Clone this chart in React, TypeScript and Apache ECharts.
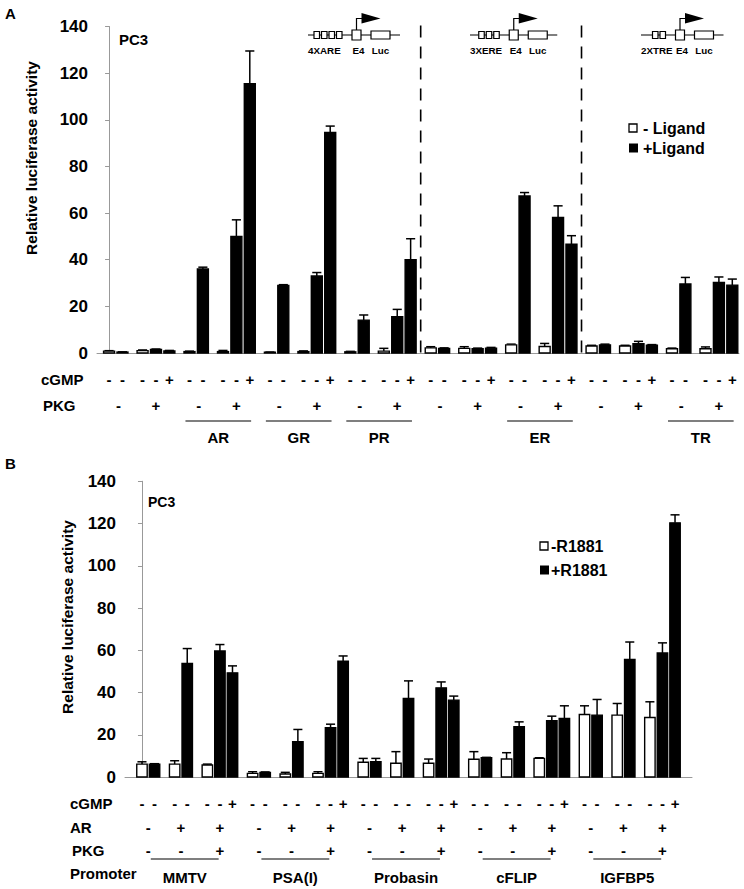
import React, { useEffect, useRef } from "react";
import * as echarts from "echarts";

const FONT = '"Liberation Sans", Arial, Helvetica, sans-serif';

// ---------------- Panel A data ----------------
// 8 groups of 5 bars: [-Ligand PKG-, +Ligand PKG-, -Ligand PKG+, +Ligand PKG+, +Ligand PKG+ cGMP+]
const receptorsA = ["", "AR", "GR", "PR", "", "ER", "", "TR"];
const valuesA = [
  [0.8, 0.4, 1.0, 1.5, 0.9],
  [0.6, 36, 0.6, 50, 115.5],
  [0.3, 29, 0.6, 33, 94.6],
  [0.5, 14.1, 0.8, 15.6, 40],
  [2.2, 2.0, 2.0, 1.8, 2.1],
  [3.5, 67.3, 2.8, 58.1, 46.6],
  [3.0, 3.5, 3.0, 4.0, 3.3],
  [1.8, 29.6, 1.8, 30.3, 29.1],
];
const errorsA = [
  [0.2, 0.1, 0.3, 0.2, 0.2],
  [0.2, 0.8, 0.5, 7.1, 14],
  [0.1, 0.3, 0.3, 1.5, 2.7],
  [0.2, 2.2, 1.2, 3.1, 9],
  [0.5, 0.2, 0.7, 0.3, 0.3],
  [0.3, 1.5, 1.3, 5.0, 3.7],
  [0.3, 0.3, 0.3, 1.0, 0.3],
  [0.3, 2.8, 0.8, 2.3, 2.6],
];
const ligandA = [0, 1, 0, 1, 1]; // 0 = - Ligand (white), 1 = +Ligand (black)
const cgmpA = ["-", "-", "-", "-", "+"];
const pkgA = ["-", "+"];
const dividersA = [3, 5]; // dashed line after these group indices
const promotersA = [
  { label: "4XARE", sites: 4 },
  { label: "3XERE", sites: 3 },
  { label: "2XTRE", sites: 2 },
];
const legendA = ["- Ligand", "+Ligand"];

// ---------------- Panel B data ----------------
const promotersB = ["MMTV", "PSA(I)", "Probasin", "cFLIP", "IGFBP5"];
const valuesB = [
  [6.1, 6.1, 6.1, 53.7, 5.7, 59.7, 49.3],
  [1.7, 2.2, 1.4, 16.7, 1.7, 23.3, 54.8],
  [7.0, 7.2, 6.5, 37.2, 6.5, 42.2, 36.4],
  [8.4, 9.1, 8.5, 23.8, 8.8, 26.6, 27.7],
  [29.6, 29.3, 29.3, 55.6, 28.2, 58.7, 120.3],
];
const errorsB = [
  [1.1, 0.2, 1.6, 7.1, 0.4, 3.0, 3.3],
  [0.8, 0.2, 0.8, 5.8, 0.8, 1.7, 2.5],
  [1.8, 1.6, 5.5, 8.3, 2.0, 2.8, 1.9],
  [3.6, 0.2, 3.0, 2.3, 0.3, 2.2, 6.0],
  [4.1, 7.4, 5.5, 8.3, 7.4, 4.8, 3.8],
];
const r1881B = [0, 1, 0, 1, 0, 1, 1]; // 0 = -R1881 (white), 1 = +R1881 (black)
const cgmpB = ["-", "-", "-", "-", "-", "-", "+"];
const arB = ["-", "+", "+"];
const pkgB = ["-", "-", "+"];
const legendB = ["-R1881", "+R1881"];

// ---------------- layout (positions in bar-slot units) ----------------
const slotA = [0, 1, 2.5, 3.5, 4.5];
const stepA = 6;
const slotB = [0, 1, 2.6, 3.6, 5.2, 6.2, 7.2];
const stepB = 8.8;
const condSlotB = [0.5, 3.1, 6.2];

type Ann = { x: number; x2?: number; dy: number; text?: string };

function buildBars(values: number[][], errors: number[][], fills: number[], slots: number[], step: number) {
  const out: number[][] = [];
  values.forEach((g, gi) =>
    g.forEach((v, i) => out.push([gi * step + slots[i], v, errors[gi][i], fills[i]]))
  );
  return out;
}

const barsA = buildBars(valuesA, errorsA, ligandA, slotA, stepA);
const barsB = buildBars(valuesB, errorsB, r1881B, slotB, stepB);

const annA: Ann[] = [];
receptorsA.forEach((r, g) => {
  slotA.forEach((s, i) => annA.push({ x: g * stepA + s, dy: 26, text: cgmpA[i] }));
  annA.push({ x: g * stepA + 0.7, dy: 52, text: pkgA[0] });
  annA.push({ x: g * stepA + 3.5, dy: 52, text: pkgA[1] });
  if (r) {
    annA.push({ x: g * stepA - 0.3, x2: g * stepA + 4.6, dy: 68 });
    annA.push({ x: g * stepA + 2.15, dy: 84, text: r });
  }
});

const annB: Ann[] = [];
promotersB.forEach((p, g) => {
  slotB.forEach((s, i) => annB.push({ x: g * stepB + s, dy: 26, text: cgmpB[i] }));
  condSlotB.forEach((s, i) => {
    annB.push({ x: g * stepB + s, dy: 50, text: arB[i] });
    annB.push({ x: g * stepB + s, dy: 73, text: pkgB[i] });
  });
  annB.push({ x: g * stepB + 0.7, x2: g * stepB + 6.1, dy: 82 });
  annB.push({ x: g * stepB + 3.4, dy: 100, text: p });
});

const dividerPos = dividersA.map((g) => g * stepA + slotA[4] + (stepA - slotA[4]) / 2);

function barRender(barW: number, capW: number) {
  return (params: any, api: any) => {
    const x = api.value(0);
    const v = api.value(1);
    const e = api.value(2);
    const f = api.value(3);
    const p0 = api.coord([x, 0]);
    const p1 = api.coord([x, v]);
    const pe = api.coord([x, v + e]);
    const w = api.size([barW, 0])[0];
    const cw = api.size([capW, 0])[0];
    const h = Math.max(p0[1] - p1[1], 0.8);
    const ls = { stroke: "#000", lineWidth: 1.5 };
    return {
      type: "group",
      children: [
        { type: "line", shape: { x1: p1[0], y1: p1[1], x2: pe[0], y2: pe[1] }, style: ls },
        { type: "line", shape: { x1: pe[0] - cw / 2, y1: pe[1], x2: pe[0] + cw / 2, y2: pe[1] }, style: ls },
        {
          type: "rect",
          shape: { x: p0[0] - w / 2, y: p0[1] - h, width: w, height: h },
          style: { fill: f ? "#000" : "#fff", stroke: "#000", lineWidth: 1.4 },
        },
      ],
    };
  };
}

function annRender(list: Ann[], fontSize: number) {
  return (params: any, api: any) => {
    const a = list[params.dataIndex];
    const p = api.coord([a.x, 0]);
    if (a.text !== undefined) {
      return {
        type: "text",
        x: p[0],
        y: p[1] + a.dy,
        style: {
          text: a.text,
          fill: "#000",
          fontSize,
          fontWeight: "bold",
          fontFamily: FONT,
          align: "center",
          verticalAlign: "middle",
          textAlign: "center",
          textVerticalAlign: "middle",
        },
      };
    }
    const p2 = api.coord([a.x2 as number, 0]);
    return {
      type: "line",
      shape: { x1: p[0], y1: p[1] + a.dy, x2: p2[0], y2: p2[1] + a.dy },
      style: { stroke: "#000", lineWidth: 1.2 },
    };
  };
}

function txt(text: string, x: number, y: number, size: number, align = "left", extra: any = {}) {
  return {
    type: "text",
    x,
    y,
    ...extra,
    style: {
      text,
      fill: "#000",
      fontSize: size,
      fontWeight: "bold",
      fontFamily: FONT,
      align,
      verticalAlign: "middle",
      textAlign: align,
      textVerticalAlign: "middle",
    },
  };
}

function diagram(x0: number, label: string, sites: number) {
  const yl = 35;
  const st = { stroke: "#000", lineWidth: 1.2 };
  const els: any[] = [];
  const siteStart = x0 + 6 + (4 - sites) * 2.75;
  const pitch = 7.5;
  const e4x = siteStart + sites * pitch - 2 + 10;
  const lucx = e4x + 9 + 10;
  const end = lucx + 19 + 10;
  els.push({ type: "line", shape: { x1: x0, y1: yl, x2: end, y2: yl }, style: st });
  for (let i = 0; i < sites; i++) {
    els.push({
      type: "rect",
      shape: { x: siteStart + i * pitch, y: yl - 3.5, width: 5.5, height: 7 },
      style: { fill: "#fff", ...st },
    });
  }
  els.push({ type: "rect", shape: { x: e4x, y: yl - 5, width: 9, height: 10 }, style: { fill: "#fff", ...st } });
  els.push({ type: "rect", shape: { x: lucx, y: yl - 4, width: 19, height: 8 }, style: { fill: "#fff", ...st } });
  const ec = e4x + 4.5;
  els.push({
    type: "polyline",
    shape: { points: [[ec, yl - 5], [ec, 18.5], [ec + 6, 18.5]] },
    style: { fill: "none", stroke: "#000", lineWidth: 1.2 },
  });
  els.push({
    type: "polygon",
    shape: { points: [[ec + 5, 13], [ec + 24, 18.5], [ec + 5, 23.5]] },
    style: { fill: "#000" },
  });
  els.push(txt(label, x0, 50, 9.8, "left"));
  els.push(txt("E4", e4x + 6.5, 50, 9.8, "center"));
  els.push(txt("Luc", lucx + 9.5, 50, 9.8, "center"));
  return els;
}

function legendItems(x: number, y1: number, y2: number, tx: number, labels: string[], size: number) {
  return [
    { type: "rect", shape: { x, y: y1 - 4, width: 8, height: 8 }, style: { fill: "#fff", stroke: "#000", lineWidth: 1.3 } },
    txt(labels[0], tx, y1, size, "left"),
    { type: "rect", shape: { x, y: y2 - 4.5, width: 9, height: 9 }, style: { fill: "#000" } },
    txt(labels[1], tx, y2, size, "left"),
  ];
}

export default function App() {
  const ref = useRef<HTMLDivElement>(null);
  useEffect(() => {
    document.body.style.margin = "0";
    if (!ref.current) return;
    const chart = echarts.init(ref.current, undefined, { renderer: "svg" });
    const axisGray = "#999";
    const xAxisBase = {
      type: "value",
      axisLine: { show: true, onZero: false, lineStyle: { color: axisGray, width: 1 } },
      axisTick: { show: false },
      axisLabel: { show: false },
      splitLine: { show: false },
    };
    const yAxisBase = {
      type: "value",
      min: 0,
      max: 140,
      interval: 20,
      axisLine: { show: true, lineStyle: { color: axisGray, width: 1 } },
      axisTick: { show: true, length: 4, lineStyle: { color: axisGray } },
      axisLabel: { margin: 9, fontSize: 17, fontWeight: "bold", color: "#000", fontFamily: FONT },
      splitLine: { show: false },
    };
    const graphics: any[] = [
      txt("A", 5, 13, 15, "left"),
      txt("B", 5, 463, 15, "left"),
      txt("PC3", 119, 39, 15, "left"),
      txt("PC3", 148, 502, 14, "left"),
      txt("Relative luciferase activity", 31, 158, 15.5, "center", { rotation: Math.PI / 2 }),
      txt("Relative luciferase activity", 67.5, 617, 15.5, "center", { rotation: Math.PI / 2 }),
      txt("cGMP", 41, 379, 15, "left"),
      txt("PKG", 43, 405, 15, "left"),
      txt("cGMP", 70, 803, 15, "left"),
      txt("AR", 70, 827, 15, "left"),
      txt("PKG", 72, 850, 15, "left"),
      txt("Promoter", 70, 873, 15, "left"),
      ...legendItems(629, 128, 148, 643, legendA, 16),
      ...legendItems(540, 546, 570, 551, legendB, 16),
      ...diagram(308, promotersA[0].label, promotersA[0].sites),
      ...diagram(470, promotersA[1].label, promotersA[1].sites),
      ...diagram(641, promotersA[2].label, promotersA[2].sites),
    ];
    chart.setOption({
      animation: false,
      backgroundColor: "#fff",
      grid: [
        { left: 97, top: 26.5, width: 642, height: 326.5 },
        { left: 125, top: 481.25, width: 567, height: 295.75 },
      ],
      xAxis: [
        { ...xAxisBase, gridIndex: 0, min: -0.9, max: 47 },
        { ...xAxisBase, gridIndex: 1, min: -1.35, max: 43.75 },
      ],
      yAxis: [
        { ...yAxisBase, gridIndex: 0 },
        { ...yAxisBase, gridIndex: 1 },
      ],
      series: [
        {
          type: "custom",
          name: "dividers",
          xAxisIndex: 0,
          yAxisIndex: 0,
          data: dividerPos.map((x) => [x, 140]),
          renderItem: (params: any, api: any) => {
            const x = api.value(0);
            const a = api.coord([x, 140]);
            const b = api.coord([x, 0]);
            return {
              type: "line",
              shape: { x1: a[0], y1: a[1] - 1, x2: b[0], y2: b[1] },
              style: { stroke: "#000", lineWidth: 1.6, lineDash: [12, 9] },
            };
          },
        },
        {
          type: "custom",
          name: "barsA",
          xAxisIndex: 0,
          yAxisIndex: 0,
          data: barsA,
          renderItem: barRender(0.82, 0.68),
        },
        {
          type: "custom",
          name: "barsB",
          xAxisIndex: 1,
          yAxisIndex: 1,
          data: barsB,
          renderItem: barRender(0.83, 0.72),
        },
        {
          type: "custom",
          name: "annA",
          xAxisIndex: 0,
          yAxisIndex: 0,
          clip: false,
          data: annA.map((a) => [a.x, 0]),
          renderItem: annRender(annA, 15),
        },
        {
          type: "custom",
          name: "annB",
          xAxisIndex: 1,
          yAxisIndex: 1,
          clip: false,
          data: annB.map((a) => [a.x, 0]),
          renderItem: annRender(annB, 15),
        },
      ],
      graphic: graphics,
    });
    return () => chart.dispose();
  }, []);
  return <div ref={ref} style={{ width: 744, height: 889 }} />;
}
